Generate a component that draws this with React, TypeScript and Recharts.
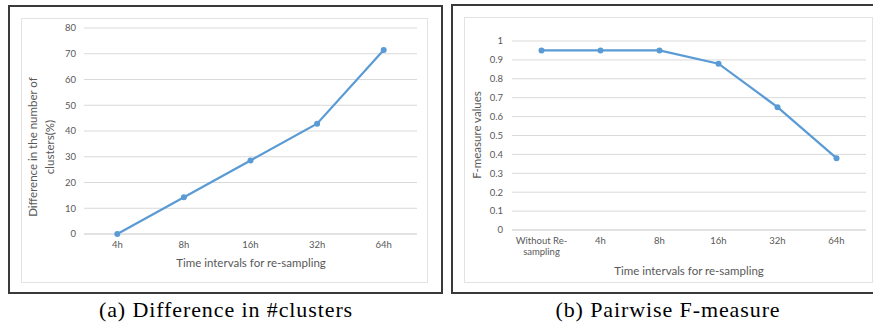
import React from 'react';
import { LineChart, Line, XAxis, YAxis, CartesianGrid } from 'recharts';

const clusterCategories = ['4h', '8h', '16h', '32h', '64h'];
const clusterValues = [0, 14.29, 28.57, 42.86, 71.43];
const clusterTicks = [0, 10, 20, 30, 40, 50, 60, 70, 80];

const fCategories = ['Without Re-sampling', '4h', '8h', '16h', '32h', '64h'];
const fValues = [0.95, 0.95, 0.95, 0.88, 0.65, 0.38];
const fTicks = [0, 0.1, 0.2, 0.3, 0.4, 0.5, 0.6, 0.7, 0.8, 0.9, 1];

const clusterData = clusterCategories.map((c, i) => ({ cat: c, value: clusterValues[i] }));
const fData = fCategories.map((c, i) => ({ cat: c, value: fValues[i] }));

const FONT = 'Lato, "Open Sans", sans-serif';
const GRAY = '#595959';
const GRID = '#d9d9d9';
const BLUE = '#5b9bd5';

function splitLabel(s: string): string[] {
  if (s.length > 10 && s.includes('-')) {
    const idx = s.indexOf('-');
    return [s.slice(0, idx + 1), s.slice(idx + 1)];
  }
  return [s];
}

const XTick = (props: any) => {
  const { x, y, payload } = props;
  const lines = splitLabel(String(payload.value));
  return (
    <text x={x} y={y} textAnchor="middle" fill={GRAY} fontSize={9.5} fontFamily={FONT}>
      {lines.map((l, i) => (
        <tspan key={i} x={x} dy={i === 0 ? '0.71em' : '1.2em'}>
          {l}
        </tspan>
      ))}
    </text>
  );
};

const abs = (s: React.CSSProperties): React.CSSProperties => ({ position: 'absolute', ...s });

const captionStyle = (left: number): React.CSSProperties =>
  abs({
    left,
    top: 310,
    transform: 'translate(-50%, -50%)',
    whiteSpace: 'nowrap',
    fontFamily: '"Liberation Serif", serif',
    fontSize: 22,
    letterSpacing: '0.9px',
    color: '#000',
  });

export default function App() {
  return (
    <div
      style={{
        position: 'absolute',
        left: 0,
        top: 0,
        width: 873,
        height: 324,
        background: '#fff',
        overflow: 'hidden',
      }}
    >
      {/* left panel borders */}
      <div style={abs({ left: 8, top: 5, width: 431, height: 285, border: '2px solid #3a3a3a' })} />
      <div style={abs({ left: 21, top: 18, width: 405, height: 263, border: '1px solid #e3e3e3' })} />
      {/* right panel borders */}
      <div style={abs({ left: 451, top: 4, width: 440, height: 286, border: '2px solid #3a3a3a' })} />
      <div style={abs({ left: 464, top: 17, width: 407, height: 264, border: '1px solid #e3e3e3' })} />

      <div style={abs({ left: 21, top: 18 })}>
        <LineChart width={406} height={264} data={clusterData} margin={{ top: 10, right: 10, left: 13, bottom: 18 }}>
          <CartesianGrid vertical={false} stroke={GRID} />
          <XAxis
            dataKey="cat"
            axisLine={{ stroke: GRID }}
            tickLine={false}
            tickSize={0}
            tickMargin={7}
            height={30}
            tick={<XTick />}
            interval={0}
            padding={{ left: 33.3, right: 33.3 }}
          />
          <YAxis
            domain={[0, 80]}
            ticks={clusterTicks}
            axisLine={false}
            tickLine={false}
            tickSize={0}
            tickMargin={8}
            width={50}
            tick={{ fill: GRAY, fontSize: 9.5, fontFamily: FONT }}
            interval={0}
          />
          <Line
            type="linear"
            dataKey="value"
            stroke={BLUE}
            strokeWidth={2.25}
            dot={{ r: 3, fill: BLUE, stroke: BLUE, strokeWidth: 0 }}
            isAnimationActive={false}
          />
        </LineChart>
      </div>

      <div style={abs({ left: 464, top: 17 })}>
        <LineChart width={408} height={265} data={fData} margin={{ top: 24, right: 6, left: 8, bottom: 12 }}>
          <CartesianGrid vertical={false} stroke={GRID} />
          <XAxis
            dataKey="cat"
            axisLine={{ stroke: GRID }}
            tickLine={false}
            tickSize={0}
            tickMargin={7}
            height={40}
            tick={<XTick />}
            interval={0}
            padding={{ left: 29.5, right: 29.5 }}
          />
          <YAxis
            domain={[0, 1]}
            ticks={fTicks}
            axisLine={false}
            tickLine={false}
            tickSize={0}
            tickMargin={9}
            width={40}
            tick={{ fill: GRAY, fontSize: 9.5, fontFamily: FONT }}
            interval={0}
          />
          <Line
            type="linear"
            dataKey="value"
            stroke={BLUE}
            strokeWidth={2.25}
            dot={{ r: 3, fill: BLUE, stroke: BLUE, strokeWidth: 0 }}
            isAnimationActive={false}
          />
        </LineChart>
      </div>

      {/* axis titles */}
      <div
        style={abs({
          left: 251,
          top: 262,
          transform: 'translate(-50%, -50%)',
          whiteSpace: 'nowrap',
          fontFamily: FONT,
          fontSize: 11.5,
          color: GRAY,
        })}
      >
        Time intervals for re-sampling
      </div>
      <div
        style={abs({
          left: 689,
          top: 270,
          transform: 'translate(-50%, -50%)',
          whiteSpace: 'nowrap',
          fontFamily: FONT,
          fontSize: 11.5,
          color: GRAY,
        })}
      >
        Time intervals for re-sampling
      </div>
      <div
        style={abs({
          left: 40.5,
          top: 147,
          transform: 'translate(-50%, -50%) rotate(-90deg)',
          whiteSpace: 'nowrap',
          textAlign: 'center',
          fontFamily: FONT,
          fontSize: 11.5,
          lineHeight: '17px',
          color: GRAY,
        })}
      >
        Difference in the number of
        <br />
        clusters(%)
      </div>
      <div
        style={abs({
          left: 476,
          top: 135,
          transform: 'translate(-50%, -50%) rotate(-90deg)',
          whiteSpace: 'nowrap',
          fontFamily: FONT,
          fontSize: 11.5,
          color: GRAY,
        })}
      >
        F-measure values
      </div>

      {/* captions */}
      <div style={captionStyle(226)}>(a) Difference in #clusters</div>
      <div style={captionStyle(668)}>(b) Pairwise F-measure</div>
    </div>
  );
}
